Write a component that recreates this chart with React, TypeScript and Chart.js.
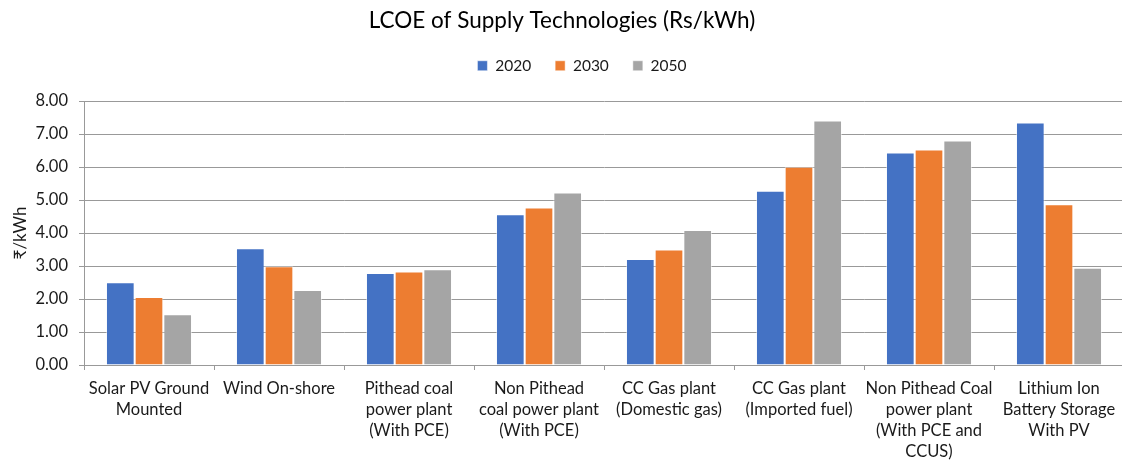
import React, { useEffect, useRef } from "react";
import { Chart, registerables } from "chart.js";

Chart.register(...registerables);

const categories: string[][] = [
  ["Solar PV Ground", "Mounted"],
  ["Wind On-shore"],
  ["Pithead coal", "power plant", "(With PCE)"],
  ["Non Pithead", "coal power plant", "(With PCE)"],
  ["CC Gas plant", "(Domestic gas)"],
  ["CC Gas plant", "(Imported fuel)"],
  ["Non Pithead Coal", "power plant", "(With PCE and", "CCUS)"],
  ["Lithium Ion", "Battery Storage", "With PV"],
];

const seriesNames = ["2020", "2030", "2050"];
const values2020 = [2.51, 3.54, 2.79, 4.57, 3.21, 5.28, 6.44, 7.35];
const values2030 = [2.06, 2.99, 2.83, 4.77, 3.5, 6.01, 6.53, 4.87];
const values2050 = [1.54, 2.27, 2.9, 5.23, 4.09, 7.41, 6.8, 2.95];
const seriesColors = ["#4472C4", "#ED7D31", "#A5A5A5"];
const yTicks = [0, 1, 2, 3, 4, 5, 6, 7, 8];

const titleText = "LCOE of Supply Technologies (Rs/kWh)";
const yTitle = "₹/kWh";

const FONT = "Lato, 'Noto Sans', sans-serif";

export default function App() {
  const ref = useRef<HTMLCanvasElement | null>(null);

  useEffect(() => {
    if (!ref.current) return;
    const legendPlugin = {
      id: "legendTweak",
      beforeInit(chart: any) {
        const lg = chart.legend;
        if (!lg) return;
        const origFit = lg.fit;
        lg.fit = function () {
          origFit.bind(lg)();
          lg.height = 67;
        };
      },
      afterLayout(chart: any) {
        const lg = chart.legend;
        if (!lg) return;
        lg.left += 20;
        lg.right += 20;
      },
    };
    const chart = new Chart(ref.current, {
      type: "bar",
      data: {
        labels: categories,
        datasets: [values2020, values2030, values2050].map((vals, i) => ({
          label: seriesNames[i],
          data: vals,
          backgroundColor: seriesColors[i],
          borderColor: "rgba(255,255,255,0.5)",
          borderWidth: 1,
          barPercentage: 1,
          categoryPercentage: 0.662,
        })),
      },
      options: {
        responsive: false,
        animation: false,
        layout: { padding: { left: 0, right: 6, top: 0, bottom: 0 } },
        plugins: {
          title: {
            display: true,
            text: titleText,
            color: "#000",
            font: { family: FONT, size: 22.5, weight: "normal", lineHeight: 1.2 },
            padding: { top: 7, bottom: 0 },
          },
          legend: {
            display: true,
            position: "top",
            labels: {
              boxWidth: 10,
              boxHeight: 10,
              padding: 24,
              color: "#1a1a1a",
              font: { family: FONT, size: 15.5 },
            },
          },
          tooltip: { enabled: false },
        },
        scales: {
          x: {
            grid: {
              display: true,
              drawOnChartArea: false,
              drawTicks: true,
              tickLength: 5,
              offset: true,
              color: "#999",
            },
            border: { display: true, color: "#999", width: 1 },
            ticks: {
              color: "#1a1a1a",
              font: { family: FONT, size: 16.5, lineHeight: 1.28 },
              padding: 8,
              maxRotation: 0,
              autoSkip: false,
            },
            afterFit(scale: any) {
              scale.height = 99;
            },
          },
          y: {
            min: 0,
            max: 8,
            afterBuildTicks(scale: any) {
              scale.ticks = yTicks.map((v) => ({ value: v }));
            },
            grid: {
              color: "#999",
              lineWidth: 1,
              tickLength: 5,
              drawTicks: true,
            },
            border: { display: true, color: "#999", width: 1 },
            ticks: {
              color: "#1a1a1a",
              font: { family: FONT, size: 16.5 },
              padding: 11,
              callback: (v: any) => Number(v).toFixed(2),
            },
            title: {
              display: true,
              text: yTitle,
              color: "#1a1a1a",
              font: { family: FONT, size: 17, lineHeight: 1.2 },
              padding: { top: 10, bottom: 0 },
            },
            afterFit(scale: any) {
              scale.width = 84;
            },
          },
        },
      },
      plugins: [legendPlugin],
    });
    return () => chart.destroy();
  }, []);

  return (
    <div
      style={{
        position: "absolute",
        left: 0,
        top: 0,
        width: 1122,
        height: 464,
        overflow: "hidden",
        background: "#fff",
      }}
    >
      <canvas ref={ref} width={1130} height={464} style={{ display: "block" }} />
    </div>
  );
}
